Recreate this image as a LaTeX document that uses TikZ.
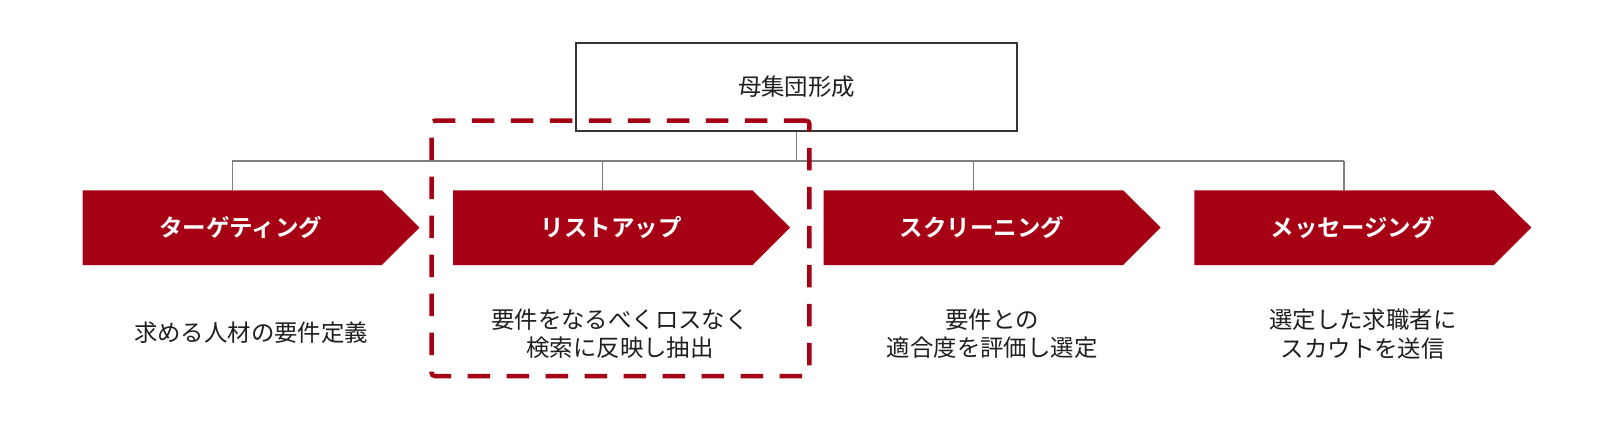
\documentclass[tikz,border=0pt]{standalone}
\usepackage{fontspec}
\newfontfamily\jp{Noto Sans CJK JP}
\newfontfamily\jpb{Noto Sans CJK JP Bold}
\definecolor{brand}{HTML}{A50014}
\definecolor{conn}{HTML}{808080}
\definecolor{txt}{HTML}{1E1E1E}
\begin{document}
\begin{tikzpicture}[x=1pt,y=-1pt,
  topbox/.style={draw=txt!90,line width=1.4pt,minimum width=441pt,minimum height=88pt,inner sep=0pt,font=\jp\fontsize{23.4}{28}\selectfont,text=txt},
  body/.style={minimum width=299pt,minimum height=74.3pt,inner sep=0pt},
  arrowfill/.style={fill=brand},
  lbl/.style={font=\jpb\fontsize{23.5}{26}\selectfont,text=white,inner sep=0pt},
  desc/.style={font=\jp\fontsize{23.4}{28.3}\selectfont,text=txt,align=center,inner sep=0pt},
  conn/.style={draw=conn,line width=1.3pt},
  sel/.style={draw=brand,line width=4.5pt,dash pattern=on 22.5pt off 16.5pt,rounded corners=3pt,inner sep=0pt,minimum width=377.6pt,minimum height=255.3pt}
]
\useasboundingbox (0,0) rectangle (1598,424);
\fill[white] (0,0) rectangle (1598,424);

\node[topbox] (top) at (796.5,87) {母集団形成};
\coordinate (hl) at (0,161);

\foreach \i/\x/\t in {1/232.2/ターゲティング,2/602.8/リストアップ,3/973.4/スクリーニング,4/1344/メッセージング}{
  \node[body] (a\i) at (\x,227.7) {};
  \fill[arrowfill] (a\i.north west) -- (a\i.north east) -- ++(37.6,37.15) -- (a\i.south east) -- (a\i.south west) -- cycle;
  \node[lbl] (t\i) at ([xshift=8.5pt]a\i.center) {\t};
  \draw[conn] (a\i.north) -- (a\i.north |- hl);
}
\draw[conn] (a1.north |- hl) -- (a4.north |- hl);
\draw[conn] (top.south) -- (top.south |- hl);

\node[desc] (d1) at (251,333) {求める人材の要件定義};
\node[desc] (d2) at (620,334) {要件をなるべくロスなく\\検索に反映し抽出};
\node[desc] (d3) at (992.2,334) {要件との\\適合度を評価し選定};
\node[desc] (d4) at (1362.8,334) {選定した求職者に\\スカウトを送信};

\node[sel] (focus) at (620.5,248.35) {};
\end{tikzpicture}
\end{document}
